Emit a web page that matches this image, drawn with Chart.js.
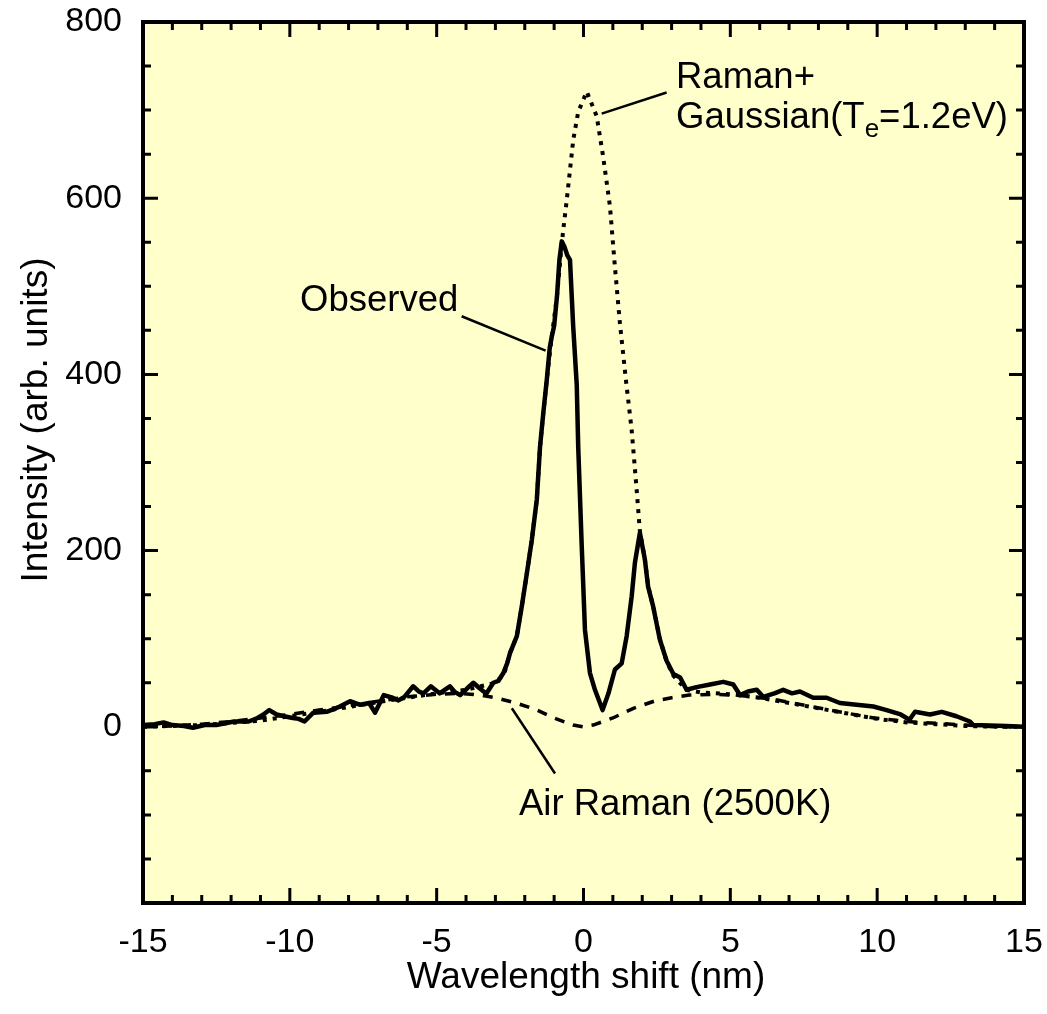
<!DOCTYPE html>
<html>
<head>
<meta charset="utf-8">
<script src="https://cdn.jsdelivr.net/npm/chart.js@4.4.0/dist/chart.umd.min.js"></script>
<style>
  body { margin: 0; background: #fff; }
</style>
</head>
<body>
<canvas id="canvas" width="1047" height="1014"></canvas>
<script>
// observed Thomson + Raman spectrum
const obsX = [-15, -14.6, -14.3, -14, -13.6, -13.3, -12.9, -12.5, -12.2, -11.9, -11.4, -11.1, -10.9, -10.7, -10.45,
  -10.2, -9.9, -9.7, -9.5, -9.2, -8.75, -8.5, -8.3, -7.95, -7.6, -7.3, -7.1, -6.8, -6.5, -6.3, -6.1, -5.8, -5.6,
  -5.45, -5.2, -4.9, -4.55, -4.4, -4.2, -3.95, -3.75, -3.55, -3.4, -3.3, -3.07, -2.9, -2.73, -2.6, -2.5, -2.27,
  -2.1, -1.93, -1.76, -1.59, -1.48, -1.37, -1.25, -1.15, -1.08, -1.0, -0.9, -0.82, -0.74, -0.65, -0.55, -0.46,
  -0.35, -0.23, -0.18, -0.06, 0.05, 0.22, 0.39, 0.65, 0.85, 1.07, 1.3, 1.47, 1.64, 1.75, 1.92, 2.09, 2.2, 2.37,
  2.6, 2.83, 3.06, 3.29, 3.51, 3.85, 4.31, 4.76, 5.1, 5.33, 5.6, 5.9, 6.12, 6.5, 6.8, 7.1, 7.37, 7.82, 8.28,
  8.73, 9.3, 9.87, 10.32, 10.8, 11.1, 11.29, 11.8, 12.2, 12.7, 13.16, 13.27, 14.4, 15]
const obsY = [2, 3, 5, 2, 1, -1, 2, 2, 4, 6, 6, 10, 14, 19, 14,
  12, 10, 9, 6, 16, 17, 20, 23, 29, 25, 27, 16, 36, 33, 30, 34, 46, 40,
  38, 46, 38, 46, 40, 36, 44, 50, 44, 40, 38, 50, 52, 61, 72, 84, 103,
  137, 174, 212, 258, 318, 356, 394, 430, 443, 455, 490, 530, 551, 545, 535, 530,
  454, 388, 318, 205, 110, 61, 42, 19, 38, 65, 72, 103, 148, 186, 220, 190, 159, 137,
  99, 75, 60, 56, 42, 45, 48, 51, 48, 36, 40, 42, 34, 38, 42, 38, 40, 33, 33,
  27, 25, 23, 19, 14, 8, 17, 14, 17, 12, 6, 2, 1, 0]

// Raman + Gaussian fit (Te = 1.2 eV)
const fitX = [-15, -13, -11, -9, -7, -5, -4, -3.5, -3, -2.7, -2.5, -2.27, -2.1, -1.93, -1.76, -1.59, -1.48, -1.37,
  -1.25, -1.08, -0.9, -0.74, -0.69, -0.57, -0.46, -0.35, -0.18, 0.11, 0.45, 0.67, 0.9, 1.07, 1.24, 1.45, 1.64,
  1.81, 1.92, 2.09, 2.2, 2.37, 2.6, 2.83, 3.06, 3.5, 4, 5, 6, 7, 8, 9, 10, 11, 12, 13, 14, 15]
const fitY = [0, 2, 7, 17, 28, 38, 42, 46, 50, 60, 84, 103, 137, 174, 212, 258, 318, 356,
  394, 443, 490, 548, 564, 598, 632, 666, 698, 721, 693, 647, 591, 522, 458, 392, 337,
  269, 222, 190, 160, 137, 100, 74, 58, 42, 39, 37, 33, 27, 21, 15, 9, 5, 3, 1, 0, 0]

// air Raman at 2500 K
const airX = [-15, -14, -13, -12, -11, -10, -9, -8, -7, -6, -5, -4.2, -3.5, -3, -2.3, -1.65, -1.0, -0.35, 0,
  0.33, 1.0, 1.7, 2.4, 3.0, 3.6, 4.5, 5.5, 6.5, 7.6, 8.7, 9.9, 11, 12, 13, 14, 15]
const airY = [0, 1, 3, 6, 10, 14, 19, 24, 29, 34, 37, 38, 36, 33, 27, 20, 10, 2, 0,
  2, 10, 21, 29, 33, 36, 37, 35, 31, 24, 17, 10, 6, 4, 2, 0, 0]

const xTicks = [-15, -10, -5, 0, 5, 10, 15]
const yTicks = [0, 200, 400, 600, 800]

const FONT = '"Liberation Sans", Arial, sans-serif'
const pts = (xs, ys) => xs.map((x, i) => ({ x: x, y: ys[i] }))

// yellow plot area, boxed frame with inward ticks, labels and leader lines
const decor = {
  id: 'decor',
  beforeDatasetsDraw(chart) {
    const { ctx, chartArea: a } = chart
    ctx.save()
    ctx.fillStyle = '#ffffcc'
    ctx.fillRect(a.left, a.top, a.right - a.left, a.bottom - a.top)
    ctx.restore()
  },
  afterDatasetsDraw(chart) {
    const { ctx, chartArea: a, scales: { x, y } } = chart
    ctx.save()
    ctx.strokeStyle = '#000'
    ctx.lineWidth = 3
    ctx.beginPath()
    for (let v = -15; v <= 15; v++) {
      const px = x.getPixelForValue(v)
      const len = v % 5 === 0 ? 15 : 8
      ctx.moveTo(px, a.bottom); ctx.lineTo(px, a.bottom - len)
      ctx.moveTo(px, a.top); ctx.lineTo(px, a.top + len)
    }
    for (let v = -200; v <= 800; v += 50) {
      const py = y.getPixelForValue(v)
      const len = v % 200 === 0 ? 15 : 8
      ctx.moveTo(a.left, py); ctx.lineTo(a.left + len, py)
      ctx.moveTo(a.right, py); ctx.lineTo(a.right - len, py)
    }
    ctx.stroke()
    ctx.lineWidth = 4
    ctx.strokeRect(a.left, a.top, a.right - a.left, a.bottom - a.top)

    // leader lines
    ctx.lineWidth = 2.5
    const lead = (x1, y1, x2, y2) => {
      ctx.beginPath()
      ctx.moveTo(x.getPixelForValue(x1), y.getPixelForValue(y1))
      ctx.lineTo(x.getPixelForValue(x2), y.getPixelForValue(y2))
      ctx.stroke()
    }
    lead(0.62, 696, 2.83, 720)
    lead(-4.15, 466, -1.29, 427)
    lead(-2.44, 21, -0.97, -53)

    // annotation text
    ctx.fillStyle = '#000'
    ctx.textBaseline = 'alphabetic'
    ctx.textAlign = 'left'
    ctx.font = '36.5px ' + FONT
    ctx.fillText('Raman+', 676, 88)
    let tx = 676
    ctx.fillText('Gaussian(T', tx, 128)
    tx += ctx.measureText('Gaussian(T').width
    ctx.font = '26px ' + FONT
    ctx.fillText('e', tx, 137)
    tx += ctx.measureText('e').width
    ctx.font = '36.5px ' + FONT
    ctx.fillText('=1.2eV)', tx, 128)
    ctx.fillText('Observed', 300, 311)
    ctx.fillText('Air Raman (2500K)', 519, 815)

    // axis titles
    ctx.font = '37px ' + FONT
    ctx.textAlign = 'center'
    ctx.textBaseline = 'middle'
    ctx.fillText('Wavelength shift (nm)', 586, 978)
    ctx.translate(37, 420)
    ctx.rotate(-Math.PI / 2)
    ctx.fillText('Intensity (arb. units)', 0, 0)
    ctx.restore()
  }
}

const ctx = document.getElementById('canvas').getContext('2d')

const chart = new Chart(ctx, {
  type: 'line',
  data: {
    datasets: [
      {
        label: 'Air Raman (2500K)',
        data: pts(airX, airY),
        borderColor: '#000',
        borderWidth: 3.5,
        borderDash: [10, 9],
        pointRadius: 0,
        fill: false
      },
      {
        label: 'Raman+Gaussian',
        data: pts(fitX, fitY),
        borderColor: '#000',
        borderWidth: 4,
        borderDash: [4, 6],
        pointRadius: 0,
        fill: false
      },
      {
        label: 'Observed',
        data: pts(obsX, obsY),
        borderColor: '#000',
        borderWidth: 4.5,
        borderJoinStyle: 'round',
        pointRadius: 0,
        fill: false
      }
    ]
  },
  options: {
    responsive: false,
    animation: false,
    layout: { padding: { top: 22, right: 23, left: 0, bottom: 0 } },
    plugins: { legend: { display: false }, tooltip: { enabled: false } },
    scales: {
      x: {
        type: 'linear',
        min: -15,
        max: 15,
        afterBuildTicks: s => { s.ticks = xTicks.map(v => ({ value: v })) },
        afterFit: s => { s.height = 111; s.paddingLeft = 0; s.paddingRight = 0 },
        grid: { display: false, drawTicks: false },
        border: { display: false },
        ticks: { color: '#000', font: { family: FONT, size: 34 }, padding: 19, maxRotation: 0 }
      },
      y: {
        min: -200,
        max: 800,
        afterBuildTicks: s => { s.ticks = yTicks.map(v => ({ value: v })) },
        afterFit: s => { s.width = 143; s.paddingTop = 0; s.paddingBottom = 0 },
        grid: { display: false, drawTicks: false },
        border: { display: false },
        ticks: { color: '#000', font: { family: FONT, size: 34 }, padding: 21 }
      }
    }
  },
  plugins: [decor]
})
</script>
</body>
</html>
